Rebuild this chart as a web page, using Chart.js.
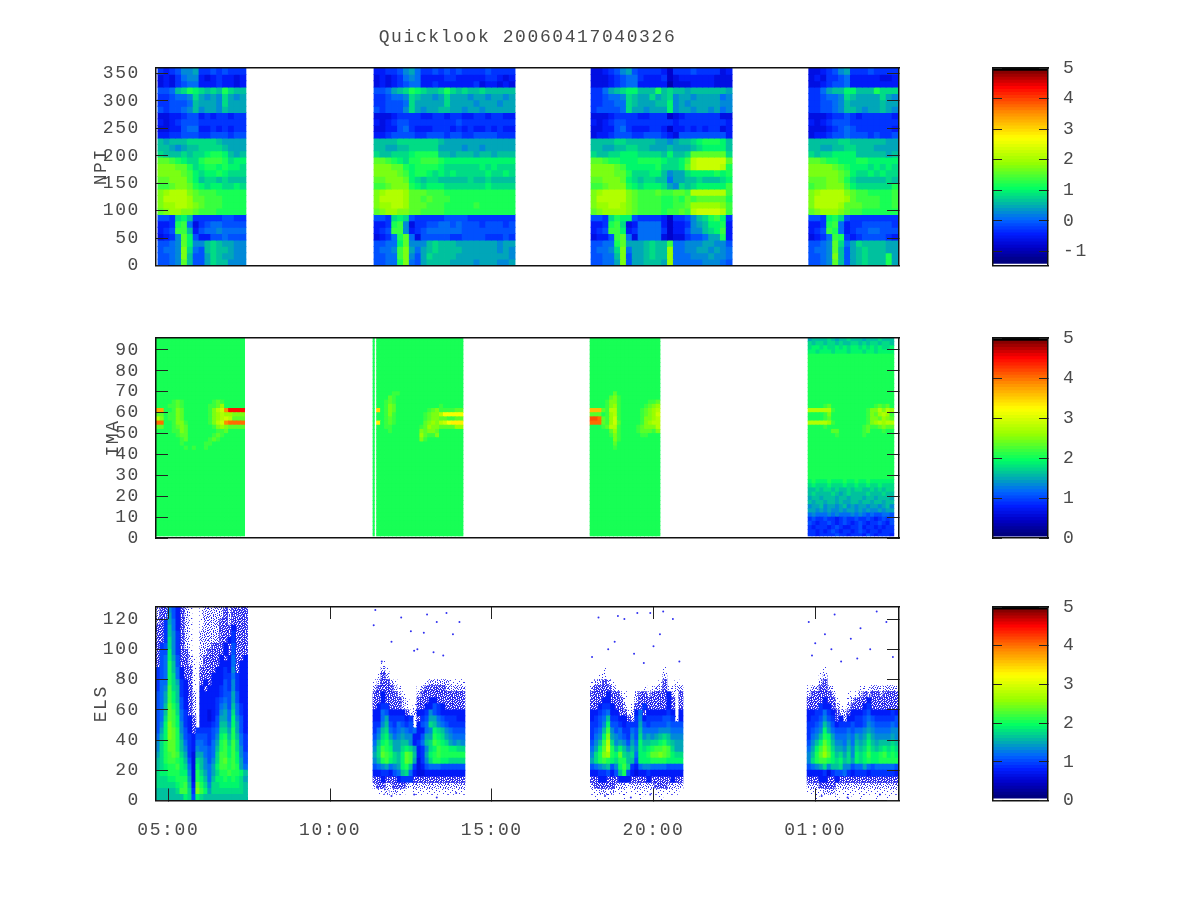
<!DOCTYPE html>
<html><head><meta charset="utf-8">
<script src="https://cdn.jsdelivr.net/npm/chart.js@4"></script>
<style>html,body{margin:0;background:#fff}canvas{position:absolute;left:0;top:0}</style>
</head><body>
<canvas id="npi" width="1200" height="900"></canvas>
<canvas id="ima" width="1200" height="900"></canvas>
<canvas id="els" width="1200" height="900"></canvas>
<canvas id="cb1" width="1200" height="900"></canvas>
<canvas id="cb2" width="1200" height="900"></canvas>
<canvas id="cb3" width="1200" height="900"></canvas>
<script>
const chartTitle = "Quicklook 20060417040326";
const panelNames = ["NPI", "IMA", "ELS"];
const timeTickHours = [5, 10, 15, 20, 25];
const timeTickLabels = ["05:00", "10:00", "15:00", "20:00", "01:00"];
const hourMin = 4.62, hourMax = 27.59;

// colour map: position in the colour-bar range -> r,g,b
const paletteStops = [0, .08, .15, .22, .30, .38, .51, .64, .77, .90, .98, .985, 1];
const paletteR = [0, 0, 0, 0, 0, 0, 150, 255, 255, 255, 130, 0, 0];
const paletteG = [0, 0, 30, 100, 180, 255, 255, 255, 140, 0, 0, 0, 0];
const paletteB = [120, 200, 255, 255, 170, 100, 0, 0, 0, 0, 0, 0, 0];

// stipple tiles used to draw sparse-count cells
const stippleSparse = ["#......#.......#","....#.......#...","..........#.....","..#....#........",".............#..","#.........#.....","....#...........",".......#.....#..","..#.............","...........#....","#....#.........#",".........#......","...#.........#..",".......#........","#...........#...",".....#.........."];
const stippleMedium = ["#..#...#.#...#.#",".#...#....#.#...","...#..#.#.....#.","#.#.....#..#.#..","....#.#....#...#",".#.#.....#...#..","#....#.#...#...#","..#..#...#.#.#..",".#...#.#....#..#","#..#....#.#...#.","...#.#..#...#.#.",".#....#...#.#...","#..#.#..#....#.#","..#....#..#.#...",".#.#.#...#....#.","#.....#.#..#.#.."];

// Each char is a level: 0-z = position in colour range * 35; A/B/C = sparse counts; . = none
// NPI: rows from top (360) to bottom (0), 4 data segments
const npiHours = [[4.68, 7.40], [11.36, 15.72], [18.07, 22.43], [24.80, 27.56]];
const npiSeg1 = [
"656799a66767666","454689954565545","454678855565545","778bcedcbcbecbb","667889ca9a9ca9a","667778baaa9caaa",
"767789b9aa9baaa","445567756566566","545677766666666","445578855656566","556677766777677","babbbcccccbaaaa",
"bba9abbccccbaaa","cbbbcbccdeedbab","ggfedccefffecdd","hhhggecdeededdc","hhhhgfdcddedccc","gghhhfdbccbcbbb",
"ffghhgedcddccdc","hijjjhgfffeeeee","hjjjjiggfffeeee","hiijjihgfffeeee","ghiihhgfffeeeee","776cdb666667766",
"556ef8467887777","567ffb578898888","4569gd755778777","7789gd99bcbaa99","7889hc87bcbba99","7789hb77acbaa99","7789gb77acbb999"];
const npiSeg2 = [
"556679 a86676 767666 676666","454568 985555 665555 566545","454567 885565 555556 455454","778abc edcbbc ecbcbb cbbbbb",
"667889 cbaa9a caaa9a a9aa9a","667778 caaaaa caaaa9 aaa9aa","767779 ca9aab baa9aa 9aaaaa","444566 665566 566556 656655",
"545677 666666 667666 666666","445578 655566 656565 565655","556777 766777 677667 777666","bbbbcc cccccb aaaaaa aaaaaa",
"bbaabb ccccca aaa9aa 9aaaaa","cbbccc deeeeb babbba bbabbb","ggfedc eefffe dddddd dddddd","hhhgge deeeed cccccc dcdccc",
"hhhhgf deedcd cdcccc cdccdc","gghhhg dcbccb bbbbcb bcbbbb","ffghhh edcddd cccccc cdcccc","hijjji gggfff eeeeee eeeeee",
"hjjjji ggfgff feeeee eeeeee","hiijji gggfff eeeeef eeeeee","ghiihh ggffff eeeeee eeeeee","776cdc 766666 777766 666666",
"556ef9 466778 878777 677767","567ff9 567888 888777 777777","4568eg 847777 766777 766676","7788dg 999bcb bbaaaa aaa9aa",
"7889fh a8abcb bbbaaa aaa9a9","7788fh 97acbb bbaaaa aaaaa9","7788eh 87abbb baaaa9 aaa99a"];
const npiSeg3 = [
"445679 a76666 536667 666645","444567 886555 634555 555444","444567 885555 524445 555444","668abc ddbbbe bcbbab bbbbba",
"667889 cbaaca bc9aa9 aaaa89","667788 cbaaab bd9a9a aaaa99","677778 caa9aa ad9aa9 aa9a89","444566 665566 634566 666644",
"545677 666666 665666 666665","445578 655566 535565 656645","455677 766777 654777 777775","bbbbcc bbbbba a9abbc deeedb",
"bbaabb ccbbaa abaaab cddddb","cbbccd ddcccc bdbbcg gggggc","ggfeed ddeeee dccdfj kkkkkg","hhhhgf ddddde cccdgj kkkkje",
"hhhhgg ecccdd b9aacd dddede","gghhhg dcbccb b8aabb cbbbcd","ffghhh edcddd ca9cbc dddddf","hijjjj hgfffg ffggfj jjjjjf",
"hjjjjj hgffff eefegf ggggge","hiijji hgffff eeffgi iiiihf","ghiiii hgffff effgfj kkkkjf","776ced d76666 536679 bcefd6",
"556efc 458888 535569 abdde5","567ffd 568888 635579 9bcdf5","4557fg 848888 434467 78aae5","7788eg aaabcb bf8899 9aa997",
"7889ch 8aabcb bi8899 aa9a98","7788bh 7aabcb bi8889 99a998","7788ah 7aabbb ai8888 899987"];
const npiSeg4 = [
"445679 a66676 666","454667 855555 445","445677 855555 555","668abb ddbbbe ccc","667889 cbaaaa ca9","667789 baaaaa baa",
"667789 bba9aa ba9","444566 765666 665","545677 766666 666","444567 876666 665","455677 877767 667","bbbbbc cbbbbb baa",
"bbaabb ccbbba aaa","cbccdd ddbbbb bab","ggfeed ddeedd ddd","hhhhgf edddcd cdc","hhhhhg fdccdc dcc","ggghhg ecbbbb bcb",
"fgghhh fdcccc cce","hijjjj hgffee eef","hjjjjj igffff eef","hjjjji gggfff eef","ghiiih gffeee eee","776dec 766666 666",
"556ef8 566777 776","567fe8 567788 777","4568fe 656777 765","7789gc 8acbbb baa","7889gb 7abcbb baa","7789hb 7abcbb bea","7789gb 7abcbb bea"];

// IMA: rows keyed by lower channel (2 channels tall); rows not listed are the plain green level
const imaBaseLevel = "e";
const imaHours = [[4.62, 7.36], [11.33, 11.37], [11.44, 14.11], [18.04, 20.20], [24.78, 27.43]];
const imaSeg1 = {
64:"eeeefgfeeeeeeefgfeeeee",62:"eeeffgfeeeeeeffgieeeee",60:"qqeefhgeeeeeefhjkrvvvv",58:"ggeffhgeeeeeefhijiihhh",
56:"jheffhgeeeeeefhijkjggg",54:"sseefhhfeeeeefhjkrssss",52:"ggeefghgeeeeeefhihgggg",50:"eeeeffhgeeeeeeeffgeeee",
48:"eeeeefggeeeeeefgfeeeee",46:"eeeeeefgeeeeefgfeeeeee",44:"eeeeeefeeeeeffeeeeeeee",42:"eeeeeeefefeefeeeeeeeee"};
const imaSeg2 = {
68:"eeeeffeeeeeeeeeeeeeeee",66:"eeegfeeeeeeeeeeeeeeeee",64:"eefgfeeeeeeeeeeeeeeeee",62:"eefhgeeeeeeeeeeefeeeee",
60:"oefhgeeeeeeeefghffffgg",58:"eefhfeeeeeeefghhjmmmmm",56:"eefgfeeeeeeefghhggffgg",54:"nefgfeeeeeeeghihjkmnnn",
52:"eeffeeeeeeefgihhggggii",50:"eeefeeeeeeehghhgeeeeee",48:"eeeeeeeeeeeigffheeeeee",46:"eeeeeeeeeeehfeeeeeeeee"};
const imaSeg3 = {
68:"eeeeeegeeeeeeeeeee",66:"eeeeeghfeeeeeeeeee",64:"eeeefhhfeeeeeeeffg",62:"eeeefhifeeeeeefghi",60:"pppgfjjfeeeeefghij",
58:"gggefijfeeeeefghik",56:"ttsgfikfeeeeefhhij",54:"sssgfikgeeeeefhijj",52:"eeefgjjfeeeefghhhj",50:"eeeeegifeeeefgggfh",
48:"eeeeefhfeeeeeffeee",46:"eeeeeehfeeeeeeeeee",44:"eeeeeegeeeeeeeeeee",42:"eeeeeefeeeeeeeeeee"};
const imaSeg4 = {
94:"abbbbcbabbcbbbabbbcbbb",92:"cbccbccbcbbccbcbccbccb",90:"cddcdccdcdcddcdcdcdccd",88:"ddcdddcdddcdddcddcdddd",
62:"eeeefgeeeeeeeeeeefgfge",60:"jjjjjjfeeeeeeeefhhjhji",58:"eeeefheeeeeeeeefhgijif",56:"eeeefgeeeeeeeeefhhgihg",
54:"jjjjjifeeeeeeeefhijijj",52:"eeeefeeeeeeeeefgffghgg",50:"eeeeeeggeeeeeefgeeefee",48:"eeeeeeefeeeeeefeeeeeee",
26:"dedddedddeddeddedddddd",24:"cdcccdcccdccdccdccdccc",22:"bbcbccbcbbcbccbbcbcbcc",20:"bcbbbbcbabcbbbbcbbbcbb",
18:"abbabbbabbabbbabbabbba",16:"babbabbabaabbabbabbabb",14:"9aab9aa9ab9a9aa9aa9ab9",12:"aa9a9a99a9aa9a9a99a9aa",
10:"8988898988898987877887",8:"6766766567667667656767",6:"7656676567656765667657",
4:"6566656765566756656566",2:"6656567656656765665666",0:"6656666766566657656665"};
const imaColumnCounts = [22, 1, 22, 18, 22];

// ELS: rows keyed by (lower channel / 4); 23 columns per segment
const elsHours = [[4.62, 7.45], [11.33, 14.17], [18.05, 20.91], [24.75, 27.59]];
const elsSeg1 = {
31:"BCC975CBA..ABBBBBCBCCCC",30:"BCCa75CBA..ABBBBBCBCCCC",29:"BC6a85CBA..ABBBBCCBCCCC",28:"CC6b85CBA..ABBBBCCC5CCC",
27:"CC6b96CBA..BBBBBCCC6CCC",26:"CC6c96CBA..BBBBBCC56CCC",25:"C67c96CBA..BBBCCC5C7CCC",24:"C77d96CCA..BBCCCC5C7CCC",
23:"C78da7CCBA.BCCCC5C58CC5",22:"C78eb7CCBA.BCCCC5558C55",21:"678eb85CCA.CCCC55659C55",20:"678ec85CCA.CCC555668655",
19:"688eca65CA.C5C555769655",18:"689fcb65CA.5C5556769655",17:"78afdb65CB.55555677a755",16:"78afdb75CB.55556787a755",
15:"78bgec75CB.55556897b865",14:"78bgfc86CB.554569a8c865",13:"78cgfd865C.55457aa8d975",12:"79dhfd965C.55567bb9da75",
11:"7adhge975C66667 8cca ea75",10:"8bdhgea7657776 79debeb86",9:"9ceggeb86588768aefcfc86",8:"9ceggeb96598878befdfc96",
7:"acefgfca64aa878cffdfd97",6:"bceffedb74cb979cfgefda7",5:"bcdeefdc84db98adffefea8",4:"cddeeedd94eca8aceefeedb9",
3:"cccddeeea4edb8bddededca",2:"cccccdefb5gec9ccdddddcb",1:"bbbbbcffc6hfdaccccccccb",0:"bbbbbbbdc7dcbbbbbbbbbbb","-0.5":"7777777a96a977777777777"};
const elsSeg2 = {
22:"..A.. ..... ..... ..... ...",21:"..BA. ..... ..... ..... ...",20:".ACB. ..... ..... ..... ...",19:"ABCCB A.... ...AB BBBBA AAA",
18:"BCCCC BA... .ABCC CCCBB BBB",17:"CC5CC CBA.. .BCCC CCCCC CCC",16:"CC5CC CCBA. .CCC5 5CCCC CCC",15:"C566C CCBA. ACC55 765CC CCC",
14:"55875 555CA B5569 76555 555",13:"558a6 66656 AC67a a8766 655",12:"669b7 68767 A578c b9876 666",11:"68bc8 78987 85589 dcb98 777",
10:"79cda 89a99 557aa edca9 888",9:"8bdec aabb9 568bc fedca 9a9",8:"9cfed aacdc a569c dfeed dcc",7:"acgfe cbdgf b56ad efeee eee",
6:"9befd cbdgf a469c eeddc ccc",5:"789a8 9adeb 64578 88777 777",4:"55665 78bc8 54455 55555 555",3:"CC5CC C5666 CCCCC CCCCC CCC",
2:"BCCBB CCCBA BBBBB BBBBB BBB",1:".AABA BAA.. AAAAA AAAAA AAA"};
const elsSeg3 = {
21:"...A. ..... ..... ...A. ...",20:"..AA. ..... ..... ...B. ...",19:"ABBCB A.... ..... ..AC. .A.",18:"BCCCC BA... ...A. ABBCA ABB",
17:"CCCC5 CCBA. .BCCB CCCC5 B.C",16:"CCC55 CCCA. .BCCC CCCC5 C.C",15:"CC566 5CCB. ACC6C CCCC5 C.C",14:"55678 55CCA B58C5 55556 5.5",
13:"5678b 6655C B6956 66677 6A5",12:"6679d 77656 66a76 77778 777",11:"678bf 97866 87b88 88999 888",10:"689dh a9876 97c9a 9abcb 999",
9:"79bfj c9a97 a8dbb ccdec baa",8:"8adgk ebdb9 b9dcd effgf caa",7:"9cehi edgcb c8dde gghgf dcc",6:"acefe dceeb b7ddd eeeed ddd",
5:"789ab 79dfc 65899 88887 777",4:"55667 57be7 54556 55555 555",3:"CC55C CC555 CCCC5 CCCCC 5CC",2:"BCCCC CBBBA BBBBB BCCCB BBB",
1:"AABBA BAAA. AAAAA AAAAA AA.",0:".A..A ...A. ..A.. ..A.. ..."};
const elsSeg4 = {
21:"....A ..... ..... ..... ...",20:"...AB ..... ..... ..... ...",19:"...BC ..... ..... ..... ...",18:"ABBCC BA... ...AA ABBAB BBA",
17:"BCCCC CB... A.ABC BCCBC CCC",16:"CCCC5 CCA.. ABCCC 5CCCC CCC",15:"CCC65 5CBA. BCCC5 6CCCC CCC",14:"55668 65CBB C5556 75555 565",
13:"56679 76C5B 55667 87666 667",12:"6678b 97566 67667 98777 787",11:"6789d a8777 87889 a9888 899",10:"689be da888 98a9a ca999 9a9",
9:"79bdg eb998 a8bab dbabb bcb",8:"8adfh fcaa9 b9cbc ecbcd cdc",7:"9begi gdbca c9dcd fddef ded",6:"9ceff edcdb cadcd eddee eee",
5:"789ac 9bbc9 9788a 87888 887",4:"55556 46778 65666 56666 665",3:"CCC55 CC5CC CCCCC CCCCC CCC",2:"BBBCC CCBBB BBBBB BBBBB BBB",
1:"AAAAB BBAAA AAAAA AAAAA AAA",0:"..A.. ..A.. A..A. ..A.. A.."};
// scattered single counts outside the main ELS bands
const elsStrayHours = [11.4,11.35,11.9,12.5,12.7,12.9,13.3,13.6,13.8,14.0,12.2,13.0,13.2,13.5,12.6,11.6,18.1,18.3,18.6,18.8,19.1,19.4,19.5,19.7,20.0,20.2,20.3,20.6,20.8,18.9,19.9,24.8,25.0,25.3,25.6,25.8,26.1,26.4,26.7,26.9,27.2,27.4,24.9,25.5,26.3,11.9,12.6,13.3,13.9,18.5,19.3,19.9,25.2,26.0,27.0];
const elsStrayChannels = [126,116,105,112,100,111,118,124,110,118,121,123,98,96,99,92,95,121,100,105,120,97,124,91,102,110,125,120,92,122,124,118,104,110,123,92,107,114,100,125,118,95,96,100,94,3,4,2,5,3,2,4,3,2,4];

// colour bars
const colorLevelCount = 64;
const barRanges = [[-1.46, 5], [0, 5], [0, 5]];
const barFloors = [-1.39, 0.05, 0.06];

const FONT = { family: "'Liberation Mono'", size: 18, weight: "normal" };
const INK = "#4a4a4a";
const LETTER_GAP = "1.6px";
Chart.defaults.font.family = FONT.family;
Chart.register({ id: "spacing",
  beforeUpdate(c) { c.ctx.letterSpacing = LETTER_GAP; },
  beforeDraw(c) { c.ctx.letterSpacing = LETTER_GAP; } });

function stipple(tile, invert) {
  const cv = document.createElement("canvas");
  cv.width = cv.height = tile.length;
  const g = cv.getContext("2d");
  g.fillStyle = "rgba(20,20,235,.85)";
  tile.forEach((row, y) => [...row].forEach((c, x) => { if ((c === "#") !== !!invert) g.fillRect(x, y, 1, 1); }));
  return g.createPattern(cv, "repeat");
}
const speckleFills = { A: stipple(stippleSparse), B: stipple(stippleMedium), C: stipple(stippleMedium, true) };

function colourAt(f) {
  f = Math.max(0, Math.min(1, f));
  let i = 0;
  while (i < paletteStops.length - 2 && f > paletteStops[i + 1]) i++;
  const t = (f - paletteStops[i]) / (paletteStops[i + 1] - paletteStops[i]);
  const m = a => Math.round(a[i] + (a[i + 1] - a[i]) * t);
  return `rgb(${m(paletteR)},${m(paletteG)},${m(paletteB)})`;
}
function rowDataset(chars, hours, rowLo, rowHi, range, pxPerHour, clipLo) {
  const clean = chars.replace(/ /g, "");
  const cols = hours.cols || clean.length;
  const step = (hours.span[1] - hours.span[0]) / cols;
  const data = [], colours = [];
  for (let c = 0; c < cols; c++) {
    const ch = clean[Math.min(c, clean.length - 1)];
    if (ch === ".") continue;
    const isSpeckle = ch >= "A" && ch <= "C";
    const f = isSpeckle ? 0.01 : parseInt(ch, 36) / 35;
    data.push({ x: hours.span[0] + (c + .5) * step, y: [Math.max(rowLo, clipLo), rowHi], v: range[0] + f * (range[1] - range[0]) });
    colours.push(isSpeckle ? speckleFills[ch] : colourAt(f));
  }
  return { type: "bar", data, backgroundColor: colours, barThickness: step * pxPerHour, inflateAmount: .4, borderWidth: 0 };
}
const plotPxPerHour = (899 - 156) / (hourMax - hourMin);

function frame(position, min, max, extra) {
  const e = extra || {};
  const horiz = position === "top" || position === "bottom";
  const cfg = {
    type: "linear", position, min, max, offset: false,
    border: { display: true, color: "#111", width: 1.5, z: 2 },
    grid: { offset: false, drawOnChartArea: false, drawTicks: !!e.tick, tickLength: e.tick ? -e.tick : 0, color: "#222", lineWidth: 1, z: 2 },
    ticks: { display: !!e.labels, padding: e.pad || 0, color: INK, font: FONT, stepSize: e.step, includeBounds: false, autoSkip: false, maxRotation: 0, callback: e.cb || (v => String(v)) },
    afterFit(s) {
      s.paddingLeft = s.paddingRight = s.paddingTop = s.paddingBottom = 0;
      if (horiz) s.height = e.size || 0; else s.width = e.size || 0;
    }
  };
  if (e.ticksAt) cfg.afterBuildTicks = s => { s.ticks = e.ticksAt.map(v => ({ value: v })); };
  if (e.title) cfg.title = { display: true, text: e.title, color: INK, font: FONT, padding: 0 };
  return cfg;
}
const timeTicks = { tick: 12, ticksAt: timeTickHours };

function heatOptions(box, yMax, yStep, yTitle, titleX, showTime, title) {
  const yW = 156 - titleX;
  const xH = showTime ? 60 : 0;
  const scales = {
    x: frame("bottom", hourMin, hourMax, showTime ? Object.assign({ labels: true, pad: 30.7, size: xH, cb: (v, i) => timeTickLabels[i] }, timeTicks) : {}),
    x2: frame("top", hourMin, hourMax, showTime ? timeTicks : {}),
    y: frame("left", 0, yMax, { tick: 12, labels: true, pad: 28, step: yStep, size: yW, title: yTitle }),
    y2: frame("right", 0, yMax, { tick: 12, step: yStep })
  };
  scales.x.stacked = true; scales.y.stacked = false;
  const titleOn = !!title;
  return {
    responsive: false, animation: false, devicePixelRatio: 1, events: [],
    layout: { padding: { left: titleX, right: 1200 - 899, top: titleOn ? 10 : box[0], bottom: 900 - box[1] - xH } },
    scales,
    plugins: { legend: { display: false }, tooltip: { enabled: false },
      title: { display: titleOn, text: title, color: INK, font: FONT, fullSize: false, padding: { top: 16.2, bottom: 20.2 } } }
  };
}

// NPI
const npiRowStep = 360 / 31;
const npiDatasets = [];
[npiSeg1, npiSeg2, npiSeg3, npiSeg4].forEach((rows, s) => rows.forEach((r, i) => {
  npiDatasets.push(rowDataset(r, { span: npiHours[s] }, 360 - (i + 1) * npiRowStep, 360 - i * npiRowStep, barRanges[0], plotPxPerHour, 0));
}));
new Chart("npi", { type: "bar", data: { datasets: npiDatasets }, options: heatOptions([68, 265.5], 360, 50, panelNames[0], 90, false, chartTitle) });

// IMA
const imaDatasets = [];
[imaSeg1, {}, imaSeg2, imaSeg3, imaSeg4].forEach((rows, s) => {
  for (let lo = 0; lo < 96; lo += 2) {
    imaDatasets.push(rowDataset(rows[lo] || imaBaseLevel, { span: imaHours[s], cols: imaColumnCounts[s] }, lo, lo + 2, barRanges[1], plotPxPerHour, 1));
  }
});
new Chart("ima", { type: "bar", data: { datasets: imaDatasets }, options: heatOptions([338, 538], 95.7, 10, panelNames[1], 102, false) });

// ELS
const elsDatasets = [];
[elsSeg1, elsSeg2, elsSeg3, elsSeg4].forEach((rows, s) => {
  Object.keys(rows).forEach(k => {
    const lo = Number(k) * 4;
    elsDatasets.push(rowDataset(rows[k], { span: elsHours[s], cols: 23 }, lo, lo + 4, barRanges[2], plotPxPerHour, 0));
  });
});
elsDatasets.push({ type: "scatter", data: elsStrayHours.map((h, i) => ({ x: h, y: elsStrayChannels[i] })), pointRadius: 1, pointBackgroundColor: "#3030f0", borderWidth: 0, pointBorderWidth: 0 });
new Chart("els", { type: "bar", data: { datasets: elsDatasets }, options: heatOptions([607, 800.5], 128, 20, panelNames[2], 90, true) });

// colour bars
const barBoxes = [[68, 265.5], [338, 538], [607, 800.5]];
["cb1", "cb2", "cb3"].forEach((id, n) => {
  const [lo, hi] = barRanges[n];
  const floor = barFloors[n];
  const ds = [];
  for (let i = 0; i < colorLevelCount; i++) {
    const a = floor + (hi - floor) * i / colorLevelCount, b = floor + (hi - floor) * (i + 1) / colorLevelCount;
    ds.push({ data: [{ x: 0, y: [a, b] }], backgroundColor: colourAt((i + .5) / colorLevelCount), barThickness: 55, borderWidth: 0, inflateAmount: .4 });
  }
  const xA = frame("bottom", -.5, .5, {}); xA.stacked = true;
  const yA = frame("left", lo, hi, { tick: 9, step: 1 }); yA.stacked = false;
  const y2 = frame("right", lo, hi, { tick: 9, step: 1, labels: true, pad: 24, size: 100, cb: v => String(v) });
  new Chart(id, { type: "bar", data: { datasets: ds }, options: {
    responsive: false, animation: false, devicePixelRatio: 1, events: [],
    layout: { padding: { left: 993, right: 1200 - 1048 - 100, top: barBoxes[n][0], bottom: 900 - barBoxes[n][1] } },
    scales: { x: xA, x2: frame("top", -.5, .5, {}), y: yA, y2 },
    plugins: { legend: { display: false }, tooltip: { enabled: false } }
  } });
});
</script>
</body></html>
